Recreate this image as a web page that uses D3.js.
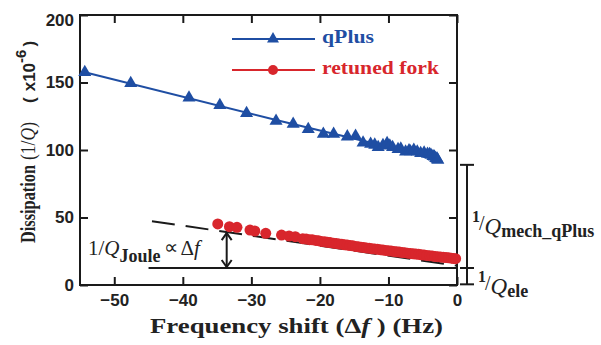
<!DOCTYPE html>
<html>
<head>
<meta charset="utf-8">
<script src="https://cdn.jsdelivr.net/npm/d3@7"></script>
<style>
  body { margin: 0; background: #fff; }
  svg { display: block; }
</style>
</head>
<body>
<div id="chart"></div>
<script>
// data
var xTicks = [-50, -40, -30, -20, -10, 0];
var yTicks = [0, 50, 100, 150, 200];

var qPlusX = [-54.3, -47.6, -39.1, -34.6, -30.7, -26.4, -23.9, -21.7, -19.5, -18.0, -16.0, -14.8, -13.7, -12.6, -12.0, -11.5, -10.8, -10.2, -9.8, -9.4, -8.6, -8.2, -7.5, -7.0, -6.8, -6.3, -5.8, -5.3, -4.8, -4.3, -4.0, -3.8, -3.5, -3.3, -3.1, -2.9, -2.8];
var qPlusY = [157.6, 149.4, 138.7, 133.1, 127.2, 121.5, 119.3, 115.3, 111.9, 111.9, 109.9, 110.4, 105.4, 104.4, 103.8, 102.0, 103.5, 105.0, 103.2, 102.0, 100.5, 100.8, 98.7, 99.6, 98.9, 100.0, 98.7, 97.6, 98.0, 97.0, 96.8, 96.3, 95.4, 95.0, 93.9, 93.4, 92.6];

var forkX = [-34.9, -33.2, -32.1, -30.2, -29.5, -27.9, -25.6, -24.5, -23.6, -22.5, -22.0, -21.5, -21.1, -20.6, -20.2, -19.8, -19.3, -18.9, -18.5, -18.0, -17.6, -17.2, -16.8, -16.4, -16.0, -15.6, -15.2, -14.8, -14.4, -14.0, -13.6, -13.2, -12.8, -12.4, -12.0, -11.6, -11.2, -10.8, -10.4, -10.0, -9.6, -9.2, -8.8, -8.4, -8.0, -7.6, -7.2, -6.8, -6.4, -6.0, -5.6, -5.2, -4.8, -4.4, -4.0, -3.6, -3.2, -2.8, -2.4, -2.0, -1.6, -1.2, -0.8, -0.5, -0.2];
var forkY = [45.2, 43.2, 42.7, 40.7, 40.0, 38.3, 37.0, 36.3, 35.8, 34.3, 34.0, 33.6, 33.5, 33.0, 32.8, 32.3, 32.1, 31.6, 31.4, 31.0, 30.8, 30.4, 30.2, 29.8, 29.6, 29.2, 29.0, 28.6, 28.4, 28.0, 27.8, 27.5, 27.3, 26.9, 26.7, 26.4, 26.2, 25.9, 25.6, 25.4, 25.1, 24.9, 24.6, 24.4, 24.1, 23.9, 23.6, 23.4, 23.1, 22.9, 22.7, 22.4, 22.2, 21.9, 21.7, 21.5, 21.2, 21.0, 20.8, 20.5, 20.3, 20.1, 19.9, 19.7, 19.5];

// trend line through qPlus, Joule guide line, electrical floor
var qPlusFitX = [-54.3, -26.4, -2.6];
var qPlusFitY = [157.6, 122.2, 93.3];
var jouleX = [-44.5, 0];
var jouleY = [47.3, 14.3];
var eleLevel = 12.6, eleStart = -45;
var arrowAt = -33.6;
var mechTop = 89, bracketBottom = 0.5;

var blue = "#1f4ea3", red = "#d8262c", ink = "#1a1a1a";
var serif = "'Liberation Serif', 'Times New Roman', serif";
var sans = "'Liberation Sans', Arial, sans-serif";

var W = 601, H = 345;
var m = {left: 80, right: 457, top: 15, bottom: 285};

var svg = d3.select("#chart").append("svg")
    .attr("width", W).attr("height", H);

var x = d3.scaleLinear().domain([-55, 0]).range([m.left, m.right]);
var y = d3.scaleLinear().domain([0, 200]).range([m.bottom, m.top]);

// axes, ticks pointing in on all four sides
var gx = svg.append("g").attr("transform", "translate(0," + m.bottom + ")")
    .call(d3.axisBottom(x).tickValues(xTicks).tickSize(-8).tickSizeOuter(0).tickPadding(9));
var gxt = svg.append("g").attr("transform", "translate(0," + m.top + ")")
    .call(d3.axisTop(x).tickValues(xTicks).tickSize(-8).tickSizeOuter(0).tickFormat(""));
var gy = svg.append("g").attr("transform", "translate(" + m.left + ",0)")
    .call(d3.axisLeft(y).tickValues(yTicks).tickSize(-8).tickSizeOuter(0).tickPadding(6));
var gyr = svg.append("g").attr("transform", "translate(" + m.right + ",0)")
    .call(d3.axisRight(y).tickValues(yTicks).tickSize(-8).tickSizeOuter(0).tickFormat(""));

[gx, gxt, gy, gyr].forEach(function(g) {
  g.select(".domain").remove();
  g.selectAll(".tick line").attr("stroke", ink).attr("stroke-width", 2);
  g.selectAll("text").attr("font-family", sans).attr("font-weight", "bold")
    .attr("font-size", 17).attr("fill", "#222");
});
gy.selectAll(".tick text").filter(function(d) { return d === 200; }).attr("dy", "0.62em");

svg.append("rect")
    .attr("x", m.left).attr("y", m.top)
    .attr("width", m.right - m.left).attr("height", m.bottom - m.top)
    .attr("fill", "none").attr("stroke", ink).attr("stroke-width", 2);

// Joule dashed guide and electrical floor
var line = d3.line().x(function(d) { return x(d[0]); }).y(function(d) { return y(d[1]); });

svg.append("path")
    .attr("d", line(d3.zip(jouleX, jouleY)))
    .attr("stroke", ink).attr("stroke-width", 2).attr("fill", "none")
    .attr("stroke-dasharray", "23,11");

svg.append("line")
    .attr("x1", x(eleStart)).attr("x2", x(0))
    .attr("y1", y(eleLevel)).attr("y2", y(eleLevel))
    .attr("stroke", ink).attr("stroke-width", 2);

// double arrow
var aTop = y(jouleY[0] + (arrowAt - jouleX[0]) * (jouleY[1] - jouleY[0]) / (jouleX[1] - jouleX[0]));
var aBot = y(eleLevel);
var ax = x(arrowAt);
var arr = svg.append("g").attr("stroke", ink).attr("stroke-width", 2).attr("fill", "none");
arr.append("line").attr("x1", ax).attr("x2", ax).attr("y1", aTop + 1).attr("y2", aBot - 1);
arr.append("polyline").attr("points", [[ax - 5, aTop + 8], [ax, aTop + 1], [ax + 5, aTop + 8]].join(" "));
arr.append("polyline").attr("points", [[ax - 5, aBot - 8], [ax, aBot - 1], [ax + 5, aBot - 8]].join(" "));

// qPlus series
svg.append("path")
    .attr("d", line.curve(d3.curveMonotoneX)(d3.zip(qPlusFitX, qPlusFitY)))
    .attr("stroke", blue).attr("stroke-width", 2).attr("fill", "none");
line.curve(d3.curveLinear);

var tri = d3.symbol(d3.symbolTriangle, 74);
svg.append("g").selectAll("path")
  .data(d3.zip(qPlusX, qPlusY))
  .enter().append("path")
    .attr("d", tri)
    .attr("transform", function(d) { return "translate(" + x(d[0]) + "," + y(d[1]) + ")"; })
    .attr("fill", blue);

// retuned fork series
svg.append("g").selectAll("circle")
  .data(d3.zip(forkX, forkY))
  .enter().append("circle")
    .attr("cx", function(d) { return x(d[0]); })
    .attr("cy", function(d) { return y(d[1]); })
    .attr("r", 5.5)
    .attr("fill", red);

// legend
var legend = [
  {name: "qPlus", color: blue, sym: "tri", y: 39, w: 52},
  {name: "retuned fork", color: red, sym: "dot", y: 70, w: 117}
];
legend.forEach(function(l) {
  svg.append("line").attr("x1", 232).attr("x2", 315).attr("y1", l.y).attr("y2", l.y)
    .attr("stroke", l.color).attr("stroke-width", 2);
  if (l.sym === "tri") {
    svg.append("path").attr("d", d3.symbol(d3.symbolTriangle, 62)).attr("transform", "translate(273," + l.y + ")").attr("fill", l.color);
  } else {
    svg.append("circle").attr("cx", 273).attr("cy", l.y).attr("r", 5).attr("fill", l.color);
  }
  svg.append("text").attr("x", 322).attr("y", l.y + 4)
    .attr("font-family", serif).attr("font-weight", "bold").attr("font-size", 19)
    .attr("textLength", l.w).attr("lengthAdjust", "spacingAndGlyphs")
    .attr("fill", l.color).text(l.name);
});

// x axis title
svg.append("text").attr("x", 150).attr("y", 333)
    .attr("font-family", serif).attr("font-weight", "bold").attr("font-size", 20)
    .attr("fill", "#222")
    .attr("textLength", 293).attr("lengthAdjust", "spacingAndGlyphs")
    .call(function(t) {
      t.append("tspan").text("Frequency shift (Δ");
      t.append("tspan").attr("font-style", "italic").text("f");
      t.append("tspan").text(" )  (Hz)");
    });

// y axis title, pieces laid out along the rotated baseline
var yt = svg.append("g").attr("transform", "translate(35,243) rotate(-90)")
    .attr("fill", "#222");
yt.append("text").attr("x", 0)
    .attr("font-family", serif).attr("font-weight", "bold").attr("font-size", 20)
    .attr("textLength", 78).attr("lengthAdjust", "spacingAndGlyphs")
    .text("Dissipation");
yt.append("text").attr("x", 83)
    .attr("font-family", serif).attr("font-size", 20)
    .attr("textLength", 38).attr("lengthAdjust", "spacingAndGlyphs")
    .call(function(t) {
      t.append("tspan").text("(1/");
      t.append("tspan").attr("font-style", "italic").text("Q");
      t.append("tspan").text(")");
    });
yt.append("text").attr("x", 140)
    .attr("font-family", sans).attr("font-weight", "bold").attr("font-size", 17)
    .call(function(t) {
      t.append("tspan").text("(");
      t.append("tspan").attr("dx", 6).text("x10");
      t.append("tspan").attr("font-size", 15).attr("dy", -9).text("-6");
      t.append("tspan").attr("dy", 9).attr("dx", 3).text(")");
    });

// Joule label
var jl = svg.append("text").attr("x", 88).attr("y", 255)
    .attr("font-family", serif).attr("font-size", 21).attr("fill", "#222");
jl.append("tspan").text("1/");
jl.append("tspan").attr("font-style", "italic").text("Q");
jl.append("tspan").attr("font-weight", "bold").attr("font-size", 18).attr("dy", 7).text("Joule");
jl.append("tspan").attr("font-size", 20).attr("dy", -8).attr("dx", 3).text("∝");
jl.append("tspan").attr("dy", 1).attr("dx", 3).text("Δ");
jl.append("tspan").attr("font-style", "italic").text("f");

// bracket on the right
var bx = 467;
var br = svg.append("g").attr("stroke", ink).attr("stroke-width", 2);
br.append("line").attr("x1", bx).attr("x2", bx).attr("y1", y(mechTop)).attr("y2", y(bracketBottom));
[mechTop, eleLevel, bracketBottom].forEach(function(v) {
  br.append("line").attr("x1", bx - 7).attr("x2", bx + 7).attr("y1", y(v)).attr("y2", y(v));
});

function qLabel(x0, base, sub) {
  var t = svg.append("text").attr("x", x0).attr("y", base)
      .attr("font-family", serif).attr("fill", "#222");
  t.append("tspan").attr("font-weight", "bold").attr("font-size", 16).attr("dy", -12).text("1");
  t.append("tspan").attr("font-size", 20).attr("dy", 8).attr("dx", -1).text("/");
  t.append("tspan").attr("font-style", "italic").attr("font-size", 23).attr("dy", 4).text("Q");
  t.append("tspan").attr("font-weight", "bold").attr("font-size", 18).attr("dy", 3).text(sub);
}
qLabel(472, 234, "mech_qPlus");
qLabel(478, 294, "ele");
</script>
</body>
</html>
